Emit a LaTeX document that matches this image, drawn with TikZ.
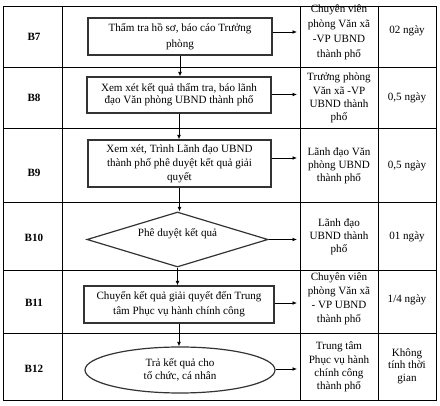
\documentclass[tikz,border=0pt]{standalone}
\usepackage{fontspec}
\setmainfont{Liberation Serif}
\usetikzlibrary{shapes.geometric,arrows.meta}
\newcommand{\fs}[1]{\fontsize{11.1}{#1}\selectfont}
\begin{document}
\begin{tikzpicture}[x=1pt,y=-1pt,
  font=\fs{14},
  grid/.style={line width=0.9pt,draw=black},
  stepbox/.style={draw=black!80,line width=1.2pt,inner sep=0pt,align=center},
  cell/.style={align=center,inner sep=0pt},
  lab/.style={inner sep=0pt,font=\fs{14}\bfseries},
  arr/.style={line width=0.8pt,draw=black,-{Latex[length=4.5pt,width=3.8pt]}}]
\useasboundingbox (0,0) rectangle (440,406);
% table grid
\draw[grid] (3,6) rectangle (436,400);
\foreach \x in {62,300,378} \draw[grid] (\x,6) -- (\x,400);
\foreach \y in {67,128,202,270,333} \draw[grid] (3,\y) -- (436,\y);
% step labels
\node[lab] (l7) at (34,37) {B7};
\node[lab] (l8) at (34,98) {B8};
\node[lab] (l9) at (34,173) {B9};
\node[lab] (l10) at (34,238) {B10};
\node[lab] (l11) at (34,303) {B11};
\node[lab] (l12) at (34,369) {B12};
% flow shapes
\node[stepbox,minimum width=184pt,minimum height=37pt,font=\fs{15.5}] (b7) at (180,36.5)
  {Thẩm tra hồ sơ, báo cáo Trưởng\\phòng};
\node[stepbox,minimum width=184pt,minimum height=36pt,font=\fs{11.8}] (b8) at (179,95)
  {Xem xét kết quả thẩm tra, báo lãnh\\đạo Văn phòng UBND thành phố};
\node[stepbox,minimum width=183pt,minimum height=47pt,font=\fs{14}] (b9) at (179.5,163.5)
  {Xem xét, Trình Lãnh đạo UBND\\thành phố phê duyệt kết quả giải\\quyết};
\node[stepbox,shape=diamond,aspect=3.3,minimum width=181pt,minimum height=55pt,text depth=14pt] (b10) at (177.5,239.5)
  {Phê duyệt kết quả};
\node[stepbox,minimum width=190pt,minimum height=37pt,font=\fs{15}] (b11) at (179,304.5)
  {Chuyển kết quả giải quyết đến Trung\\tâm Phục vụ hành chính công};
\node[stepbox,shape=ellipse,minimum width=190pt,minimum height=46pt,font=\fs{12.7}] (b12) at (180,370)
  {Trả kết quả cho\\tổ chức, cá nhân};
% responsible
\node[cell,font=\fs{15}] (r7) at (339,32) {Chuyên viên\\phòng Văn xã\\-VP UBND\\thành phố};
\node[cell,font=\fs{13.3}] (r8) at (339,98) {Trưởng phòng\\Văn xã -VP\\UBND thành\\phố};
\node[cell,font=\fs{13}] (r9) at (339,166) {Lãnh đạo Văn\\phòng UBND\\thành phố};
\node[cell,font=\fs{13}] (r10) at (339,237) {Lãnh đạo\\UBND thành\\phố};
\node[cell,font=\fs{14}] (r11) at (339,299) {Chuyên viên\\phòng Văn xã\\- VP UBND\\thành phố};
\node[cell,font=\fs{13.3}] (r12) at (339,367) {Trung tâm\\Phục vụ hành\\chính công\\thành phố};
% time
\node[cell] (t7) at (407,31) {02 ngày};
\node[cell] (t8) at (407,98) {0,5 ngày};
\node[cell] (t9) at (407,166) {0,5 ngày};
\node[cell] (t10) at (407,237) {01 ngày};
\node[cell] (t11) at (407,300) {1/4 ngày};
\node[cell,font=\fs{12.5}] (t12) at (407,366) {Không\\tính thời\\gian};
% vertical arrows
\draw[arr] (b7.south) -- (b7.south |- b8.north);
\draw[arr] (b8.south) -- (b8.south |- b9.north);
\draw[arr] (b9.south) -- (b9.south |- b10.north);
\draw[arr] (b10.south) -- (b10.south |- b11.north);
\draw[arr] (b11.south) -- (b11.south |- b12.north);
% horizontal arrows
\coordinate (e7) at (297,32);
\coordinate (e8) at (297,94.5);
\coordinate (e9) at (297,158);
\coordinate (e10) at (297,239.5);
\coordinate (e11) at (297,303);
\coordinate (e12) at (297,369);
\draw[arr] (b7.east |- e7) -- (e7);
\draw[arr] (b8.east |- e8) -- (e8);
\draw[arr] (b9.east |- e9) -- (e9);
\draw[arr] (b10.east) -- (e10);
\draw[arr] (b11.east |- e11) -- (e11);
\draw[arr] (b12.east |- e12) -- (e12);
\end{tikzpicture}
\end{document}
